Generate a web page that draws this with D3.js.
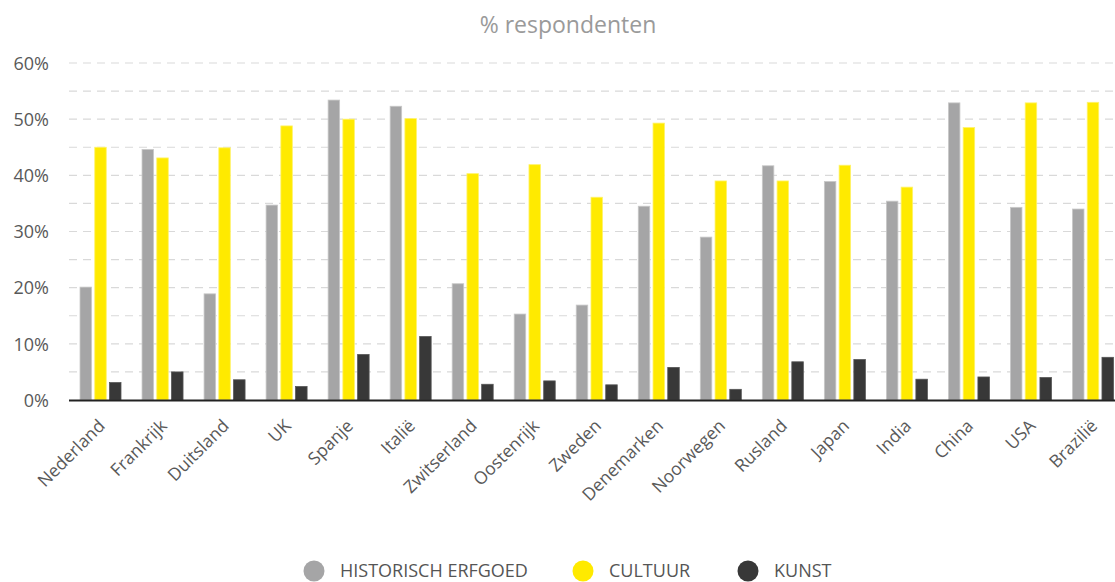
<!DOCTYPE html>
<html><head><meta charset="utf-8">
<script src="https://cdn.jsdelivr.net/npm/d3@7/dist/d3.min.js"></script>
<style>body{margin:0;background:#fff;} text{font-family:"Open Sans",sans-serif;}</style>
</head><body><svg id="c" width="1115" height="582"></svg>
<script>
const categories = ["Nederland","Frankrijk","Duitsland","UK","Spanje","Italië","Zwitserland","Oostenrijk","Zweden","Denemarken","Noorwegen","Rusland","Japan","India","China","USA","Brazilië"];
const seriesNames = ["HISTORISCH ERFGOED","CULTUUR","KUNST"];
const historisch = [20.1,44.6,18.9,34.7,53.4,52.3,20.7,15.3,16.9,34.5,29.0,41.7,38.9,35.4,52.9,34.3,34.0];
const cultuur    = [45.0,43.1,44.9,48.8,50.0,50.1,40.3,41.9,36.1,49.3,39.0,39.0,41.8,37.9,48.5,52.9,53.0];
const kunst      = [3.1,5.0,3.6,2.4,8.1,11.3,2.8,3.4,2.7,5.8,1.9,6.8,7.2,3.7,4.1,4.0,7.6];
const yTicks = [0,10,20,30,40,50,60];
const colors = ["#a5a5a6","#ffea00","#383838"];

(function(){
const svg = d3.select("#c");
const mLeft = 69, mTop = 63, mBottom = 400;
const x = d3.scaleBand().domain(categories).range([mLeft, mLeft + 62.03*17]).paddingInner(0).paddingOuter(0);
const y = d3.scaleLinear().domain([0,60]).range([mBottom, mTop]);
const xs = d3.scaleBand().domain(seriesNames).range([11, 11+41]).paddingInner(0.22);

// gridlines every 5%
const grid = d3.range(5, 61, 5);
svg.append("g").selectAll("line").data(grid).join("line")
  .attr("x1", mLeft).attr("x2", 1115).attr("y1", d=>y(d)).attr("y2", d=>y(d))
  .attr("stroke","#d9d9d9").attr("stroke-width",1.2).attr("stroke-dasharray","8,6");

// y axis labels
const yAxis = d3.axisLeft(y).tickValues(yTicks).tickFormat(d=>d+"%").tickSize(0).tickPadding(0);
const ya = svg.append("g").attr("transform","translate(49,0)").call(yAxis);
ya.select(".domain").remove();
ya.selectAll("text").attr("font-size",18).attr("fill","#595959").attr("font-family","Open Sans, sans-serif").attr("dy","0.35em").attr("text-anchor","end");

// bars
const data = [historisch, cultuur, kunst];
const groups = svg.append("g");
seriesNames.forEach((s, si) => {
  groups.append("g").selectAll("rect").data(categories).join("rect")
    .attr("x", c => x(c) + xs(s))
    .attr("y", (c,i) => y(data[si][i]))
    .attr("width", xs.bandwidth())
    .attr("height", (c,i) => y(0) - y(data[si][i]))
    .attr("fill", colors[si])
    .attr("stroke", si===0 ? "#c8c8c8" : (si===1 ? "#fff36a" : "#555"))
    .attr("stroke-width", 0.8);
});

// x axis
const xAxis = d3.axisBottom(x).tickSize(0).tickPadding(0);
const xa = svg.append("g").attr("transform",`translate(0,${mBottom})`).call(xAxis);
xa.select(".domain").remove();
svg.append("line").attr("x1",mLeft).attr("x2",1115).attr("y1",mBottom+0.5).attr("y2",mBottom+0.5).attr("stroke","#222").attr("stroke-width",2);
xa.selectAll(".tick text")
  .attr("font-size",17.5).attr("fill","#595959").attr("font-family","Open Sans, sans-serif")
  .attr("text-anchor","end").attr("dy",0).attr("y",0)
  .attr("transform","translate(6,27) rotate(-45)");

// title
svg.append("text").attr("x",568).attr("y",33).attr("text-anchor","middle")
  .attr("font-size",23).attr("fill","#9a9a9a").text("% respondenten");

// legend
const legX = [314, 583, 748];
const lg = svg.append("g");
seriesNames.forEach((s,i)=>{
  lg.append("circle").attr("cx",legX[i]).attr("cy",571).attr("r",10.5).attr("fill",colors[i]);
  lg.append("text").attr("x",legX[i]+26).attr("y",577).attr("font-size",18).attr("fill","#555").text(s);
});
})();
</script></body></html>
